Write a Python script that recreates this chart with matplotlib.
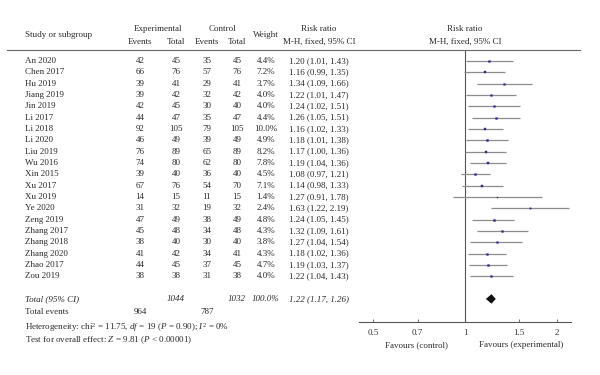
import matplotlib
matplotlib.use("Agg")
import matplotlib.pyplot as plt
from matplotlib import transforms
from matplotlib.lines import Line2D

plt.rcParams["font.family"] = ["Liberation Serif", "DejaVu Serif"]
plt.rcParams["mathtext.fontset"] = "custom"
plt.rcParams["mathtext.rm"] = "Liberation Serif"
plt.rcParams["mathtext.it"] = "Liberation Serif:italic"

studies = ["An 2020", "Chen 2017", "Hu 2019", "Jiang 2019", "Jin 2019", "Li 2017",
           "Li 2018", "Li 2020", "Liu 2019", "Wu 2016", "Xin 2015", "Xu 2017",
           "Xu 2019", "Ye 2020", "Zeng 2019", "Zhang 2017", "Zhang 2018",
           "Zhang 2020", "Zhao 2017", "Zou 2019"]
exp_events = [42, 66, 39, 39, 42, 44, 92, 46, 76, 74, 39, 67, 14, 31, 47, 45, 38, 41, 44, 38]
exp_total = [45, 76, 41, 42, 45, 47, 105, 49, 89, 80, 40, 76, 15, 32, 49, 48, 40, 42, 45, 38]
ctl_events = [35, 57, 29, 32, 30, 35, 79, 39, 65, 62, 36, 54, 11, 19, 38, 34, 30, 34, 37, 31]
ctl_total = [45, 76, 41, 42, 40, 47, 105, 49, 89, 80, 40, 70, 15, 32, 49, 48, 40, 41, 45, 38]
weight = [4.4, 7.2, 3.7, 4.0, 4.0, 4.4, 10.0, 4.9, 8.2, 7.8, 4.5, 7.1, 1.4, 2.4, 4.8, 4.3, 3.8, 4.3, 4.7, 4.0]
rr = [1.20, 1.16, 1.34, 1.22, 1.24, 1.26, 1.16, 1.18, 1.17, 1.19, 1.08, 1.14, 1.27, 1.63, 1.24, 1.32, 1.27, 1.18, 1.19, 1.22]
lo = [1.01, 0.99, 1.09, 1.01, 1.02, 1.05, 1.02, 1.01, 1.00, 1.04, 0.97, 0.98, 0.91, 1.22, 1.05, 1.09, 1.04, 1.02, 1.03, 1.04]
hi = [1.43, 1.35, 1.66, 1.47, 1.51, 1.51, 1.33, 1.38, 1.36, 1.36, 1.21, 1.33, 1.78, 2.19, 1.45, 1.61, 1.54, 1.36, 1.37, 1.43]
total_rr, total_lo, total_hi = 1.22, 1.17, 1.26
total_exp_n, total_ctl_n = 1044, 1032
total_exp_ev, total_ctl_ev = 964, 787
ticks = [0.5, 0.7, 1, 1.5, 2]
tick_labels = ["0.5", "0.7", "1", "1.5", "2"]

W, H = 600, 375
fig = plt.figure(figsize=(6, 3.75), dpi=100)

# forest panel: pixels x 359..571, y 50..322
ax = fig.add_axes([359 / W, 1 - 322 / H, 212 / W, 272 / H])
ax.set_xscale("log")
ax.set_xlim(0.45, 2.22)
row_h = 11.33
ax.set_ylim((322 - 61) / row_h, (50 - 61) / row_h)
ax.axvline(1, color="#555555", lw=0.8)

for i in range(len(studies)):
    ax.plot([lo[i], hi[i]], [i, i], color="#8c8c8c", lw=0.9, solid_capstyle="butt")
    ax.plot(rr[i], i, marker="s", ms=0.62 * weight[i] ** 0.5, color="#2b2b8f", mec="#2b2b8f", mew=0.3)

tot_y = 21
ax.fill([total_lo, total_rr, total_hi, total_rr],
        [tot_y, tot_y - 0.42, tot_y, tot_y + 0.42], color="#111111", lw=0)

for s in ["top", "left", "right"]:
    ax.spines[s].set_visible(False)
ax.spines["bottom"].set_color("#555555")
ax.spines["bottom"].set_linewidth(0.8)
ax.set_yticks([])
ax.set_xticks(ticks)
ax.set_xticklabels(tick_labels)
ax.minorticks_off()
ax.tick_params(axis="x", direction="in", length=2, width=0.6, color="#555555",
               labelsize=6.5, labelcolor="#333333", pad=5)

tc = "#2a2a2a"
fs = 6.5
tr = transforms.blended_transform_factory(fig.transFigure, ax.transData)


def px(x):
    return x / W


def put(x, y, s, ha="center", **kw):
    fig.text(px(x), 1 - y / H, s, ha=ha, va="center", fontsize=fs, color=tc, **kw)


# headers
put(25, 35, "Study or subgroup", ha="left")
put(158, 29, "Experimental")
put(140, 42, "Events")
put(176, 42, "Total")
put(222, 29, "Control")
put(207, 42, "Events")
put(237, 42, "Total")
put(266, 35, "Weight")
put(319, 29, "Risk ratio")
put(319, 42, "M-H, fixed, 95% CI")
put(465, 29, "Risk ratio")
put(465, 42, "M-H, fixed, 95% CI")
fig.add_artist(Line2D([px(7), px(580)], [1 - 50 / H, 1 - 50 / H], color="#666666", lw=0.8))

# study rows
for i, name in enumerate(studies):
    kw = dict(transform=tr, va="center", fontsize=fs, color=tc)
    ax.text(px(25), i, name, ha="left", **kw)
    ax.text(px(140), i, str(exp_events[i]), ha="center", **kw)
    ax.text(px(176), i, str(exp_total[i]), ha="center", **kw)
    ax.text(px(207), i, str(ctl_events[i]), ha="center", **kw)
    ax.text(px(237), i, str(ctl_total[i]), ha="center", **kw)
    ax.text(px(266), i, f"{weight[i]:.1f}%", ha="center", **kw)
    ax.text(px(319), i, f"{rr[i]:.2f} ({lo[i]:.2f}, {hi[i]:.2f})", ha="center", **kw)

# total rows
kw = dict(transform=tr, va="center", fontsize=fs, color=tc, style="italic")
ax.text(px(25), tot_y, "Total (95% CI)", ha="left", **kw)
ax.text(px(176), tot_y, str(total_exp_n), ha="center", **kw)
ax.text(px(237), tot_y, str(total_ctl_n), ha="center", **kw)
ax.text(px(266), tot_y, "100.0%", ha="center", **kw)
ax.text(px(319), tot_y, f"{total_rr:.2f} ({total_lo:.2f}, {total_hi:.2f})", ha="center", **kw)

put(25, 312, "Total events", ha="left")
put(140, 312, str(total_exp_ev))
put(207, 312, str(total_ctl_ev))
put(25, 327, r"Heterogeneity: chi$^2$ = 11.75, $df$ = 19 ($P$ = 0.90); $I^2$ = 0%", ha="left")
put(25, 340, r"Test for overall effect: $Z$ = 9.81 ($P$ < 0.00001)", ha="left")

put(417, 345, "Favours (control)")
put(521, 345, "Favours (experimental)")

fig.savefig("out.png", dpi=100, facecolor="white")
